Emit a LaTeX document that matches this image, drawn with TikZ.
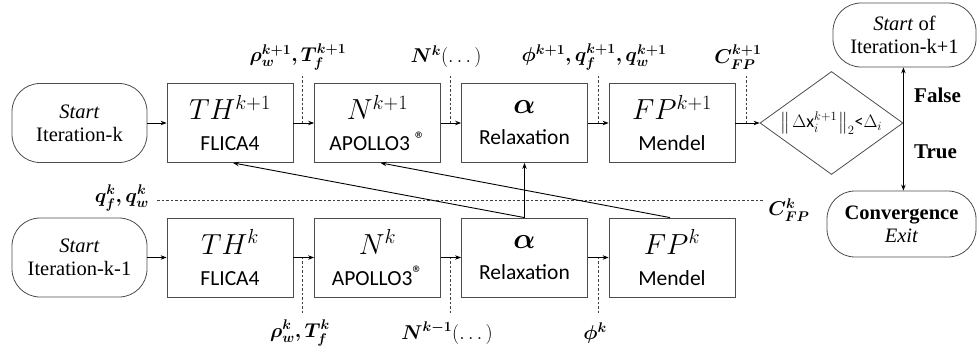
\RequirePackage{fix-cm}
\documentclass[tikz,border=0pt]{standalone}
\usepackage{amsmath}
\usepackage{fontspec}
\setmainfont{Liberation Serif}
\setsansfont{Carlito}
\usepackage{bm}
\usetikzlibrary{shapes.geometric,arrows.meta}
\begin{document}
\begin{tikzpicture}[x=1pt,y=-1pt,
 box/.style={draw=black!70, line width=0.8pt, minimum width=126pt, minimum height=79pt, inner sep=0pt, align=center, font=\sffamily\fontsize{21.5}{31}\selectfont},
 term/.style={draw=black!70, line width=0.8pt, rounded corners=28pt, inner sep=0pt, align=center, font=\fontsize{20.5}{23}\selectfont},
 arr/.style={-{Stealth[length=6pt,width=4.5pt]}, line width=0.9pt},
 dline/.style={dash pattern=on 2.5pt off 2pt, line width=0.6pt, black!75},
 lab/.style={font=\fontsize{20}{22}\selectfont, inner sep=1pt},
]
\useasboundingbox (0,0) rectangle (977,350);
\newcommand{\bx}[2]{{\fontsize{29}{31}\selectfont$#1$}\\#2}
\newcommand{\regmark}{\raisebox{0.45ex}{\fontsize{21}{21}\selectfont ®}}
% top row
\node[term, minimum width=135pt, minimum height=79pt] (s1) at (79.5,123) {\textit{Start}\\Iteration-k};
\node[box] (th1) at (230,123) {\bx{TH^{k+1}}{FLICA4}};
\node[box] (n1) at (377.5,123) {\bx{N^{k+1}}{APOLLO3 \regmark}};
\node[box] (a1) at (524.5,123) {\bx{\bm{\alpha}}{Relaxation}};
\node[box] (f1) at (672,123) {\bx{FP^{k+1}}{Mendel}};
% bottom row
\node[term, minimum width=135pt, minimum height=79pt] (s0) at (79.5,257.5) {\textit{Start}\\Iteration-k-1};
\node[box] (th0) at (230,257.5) {\bx{TH^{k}}{FLICA4}};
\node[box] (n0) at (377.5,257.5) {\bx{N^{k}}{APOLLO3\regmark}};
\node[box] (a0) at (524.5,257.5) {\bx{\bm{\alpha}}{Relaxation}};
\node[box] (f0) at (672,257.5) {\bx{FP^{k}}{Mendel}};
% decision and terminals
\node[diamond, draw=black!70, line width=0.8pt, inner sep=0pt, minimum width=143pt, minimum height=103pt, aspect=1.39, font=\sffamily\fontsize{18}{20}\selectfont] (dm) at (831.5,123) {$\bigl\|\mkern2mu\Delta\textsf{x}_{i}^{k+1}\mkern1mu\bigr\|_2$<$\Delta_i$};
\node[term, minimum width=143pt, minimum height=64pt] (nx) at (904.5,35) {\textit{Start} of\\Iteration-k+1};
\node[term, minimum width=149pt, minimum height=66pt] (cv) at (901.5,224) {\textbf{Convergence}\\\textit{Exit}};
% horizontal arrows
\foreach \a/\b in {s1/th1,th1/n1,n1/a1,a1/f1,f1/dm,s0/th0,th0/n0,n0/a0,a0/f0}{\draw[arr] (\a.east) -- (\b.west);}
% decision outputs
\draw[arr] (dm.east) -- (dm.east |- nx.south);
\draw[arr] (dm.east) -- (dm.east |- cv.north);
\node[font=\bfseries\fontsize{21}{23}\selectfont, anchor=west, inner sep=1pt] (fl) at (913,95) {False};
\node[font=\bfseries\fontsize{21}{23}\selectfont, anchor=west, inner sep=1pt] (tr) at (913,152) {True};
% top dashed labels
\coordinate (u1) at (302,76); \coordinate (u2) at (450,76); \coordinate (u3) at (598,76); \coordinate (u4) at (746,76);
\draw[dline] (u1) -- (u1 |- th1.east);
\draw[dline] (u2) -- (u2 |- n1.east);
\draw[dline] (u3) -- (u3 |- a1.east);
\draw[dline] (u4) -- (u4 |- f1.east);
\node[lab] (l1) at (298,57) {$\bm{\rho_w^{k+1}, T_f^{k+1}}$};
\node[lab] (l2) at (446,57) {$\bm{N^k}(\dots)$};
\node[lab] (l3) at (594,57) {$\bm{\phi^{k+1}, q_f^{k+1}, q_w^{k+1}}$};
\node[lab] (l4) at (738,57) {$\bm{C_{FP}^{k+1}}$};
% bottom dashed labels
\coordinate (b1) at (302,313); \coordinate (b2) at (450,313); \coordinate (b3) at (598,313);
\draw[dline] (b1) -- (b1 |- th0.east);
\draw[dline] (b2) -- (b2 |- n0.east);
\draw[dline] (b3) -- (b3 |- a0.east);
\node[lab] (m1) at (300,333) {$\bm{\rho_w^{k}, T_f^{k}}$};
\node[lab] (m2) at (447,333) {$\bm{N^{k-1}}(\dots)$};
\node[lab] (m3) at (595,333) {$\bm{\phi^{k}}$};
% horizontal dashed
\coordinate (h1) at (157,200); \coordinate (h2) at (763,200);
\draw[dline] (h1) -- (h2);
\node[lab, anchor=east] (q) at (150,198) {$\bm{q_f^k, q_w^k}$};
\node[lab] (c) at (789,210) {$\bm{C_{FP}^k}$};
% cross feedback
\draw[arr] (a0.north) -- (a1.south);
\draw[arr] (a0.north) -- ([xshift=3pt]th1.south);
\draw[arr] ([xshift=-2pt]f0.north) -- ([xshift=3pt]n1.south);
\end{tikzpicture}
\end{document}
